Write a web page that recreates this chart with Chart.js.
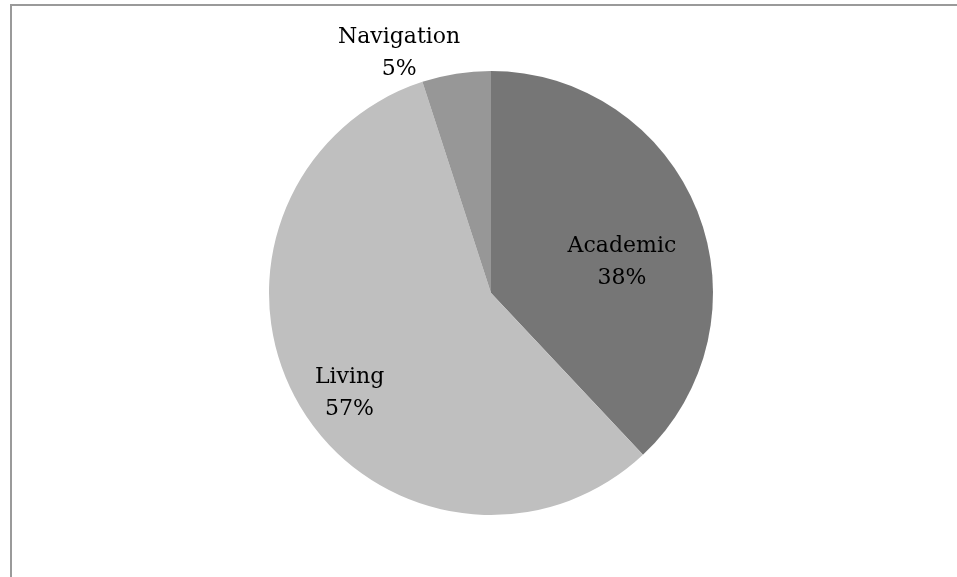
<!DOCTYPE html>
<html>
<head>
<meta charset="utf-8">
<script src="https://cdn.jsdelivr.net/npm/chart.js@4/dist/chart.umd.min.js"></script>
<style>
  html, body { margin: 0; padding: 0; background: #fff; }
  #pie { display: block; }
</style>
</head>
<body>
<canvas id="pie" width="957" height="577"></canvas>
<script>
// data
var categories = ["Academic", "Living", "Navigation"];
var shares = [38, 57, 5];
var sliceColors = ["#767676", "#bfbfbf", "#979797"];

// where each label sits: fraction of radius, and angle nudge (deg) from slice middle
var labelRadius = [0.608, 0.774, 1.166];
var labelTurn = [7.5, -4, -11.8];

var frame = {
	id: "frame",
	afterDraw: function(chart) {
		var c = chart.ctx;
		c.save();
		c.strokeStyle = "#9a9a9a";
		c.lineWidth = 2;
		c.beginPath();
		c.moveTo(11, 577);
		c.lineTo(11, 5);
		c.lineTo(957, 5);
		c.stroke();
		c.restore();
	}
};

var sliceLabels = {
	id: "sliceLabels",
	afterDatasetsDraw: function(chart) {
		var c = chart.ctx;
		var arcs = chart.getDatasetMeta(0).data;
		c.save();
		c.font = "22px 'DejaVu Serif'";
		c.fillStyle = "#000";
		c.textAlign = "center";
		c.textBaseline = "alphabetic";
		for (var i = 0; i < arcs.length; i++) {
			var a = arcs[i];
			var mid = (a.startAngle + a.endAngle) / 2 + labelTurn[i] * Math.PI / 180;
			var r = a.outerRadius * labelRadius[i];
			var x = a.x + Math.cos(mid) * r;
			var y = a.y + Math.sin(mid) * r;
			c.fillText(categories[i], x, y - 8);
			c.fillText(shares[i] + "%", x, y + 24);
		}
		c.restore();
	}
};

var chart = new Chart(document.getElementById("pie"), {
	type: "pie",
	data: {
		labels: categories,
		datasets: [{
			data: shares,
			backgroundColor: sliceColors,
			borderWidth: 0
		}]
	},
	options: {
		responsive: false,
		animation: false,
		layout: { padding: { top: 71, bottom: 62, left: 25, right: 0 } },
		plugins: {
			legend: { display: false },
			tooltip: { enabled: false }
		}
	},
	plugins: [frame, sliceLabels]
});
</script>
</body>
</html>
